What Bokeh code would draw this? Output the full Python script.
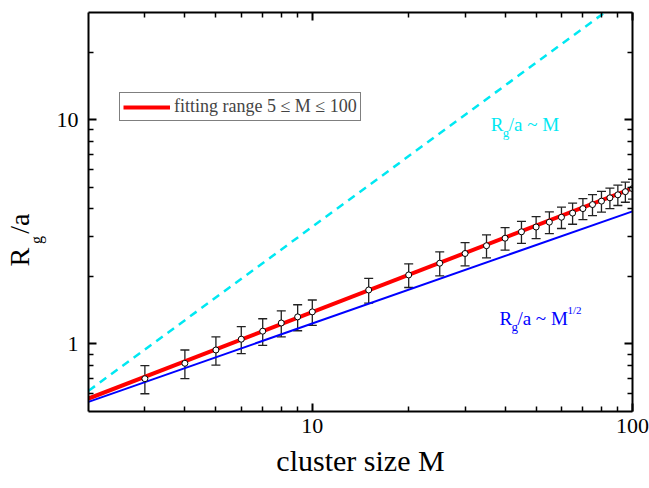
from bokeh.plotting import figure
from bokeh.models import (LogAxis, FixedTicker, BasicTickFormatter, Whisker, TeeHead,
                          ColumnDataSource, Label, Legend, LegendItem, Range1d, CustomJSTickFormatter)
from bokeh.embed import file_html
from bokeh.resources import INLINE

# ---- data ----
M = [3, 4, 5, 6, 7, 8, 9, 10, 15, 20, 25, 30, 35, 40, 45, 50, 55, 60, 65, 70, 75, 80, 85, 90, 95, 100]
rg = [0.70, 0.82, 0.94, 1.05, 1.14, 1.24, 1.32, 1.39, 1.74, 2.03, 2.29, 2.53, 2.74, 2.96, 3.16, 3.32,
      3.49, 3.67, 3.83, 4.01, 4.18, 4.33, 4.48, 4.62, 4.77, 4.92]
err = [0.10, 0.12, 0.135, 0.145, 0.155, 0.165, 0.175, 0.18, 0.22, 0.245, 0.28, 0.30, 0.32, 0.34, 0.355,
       0.37, 0.385, 0.40, 0.415, 0.43, 0.445, 0.46, 0.47, 0.48, 0.49, 0.50]

fit_M = [2, 100]
fit_rg = [0.571, 4.94]
half_M = [2, 100]
half_rg = [0.552, 3.90]
lin_M = [2, 100]
lin_rg = [0.618, 37.0]

x_major = [10, 100]
x_minor = [3, 4, 5, 6, 7, 8, 9, 20, 30, 40, 50, 60, 70, 80, 90]
y_major = [1, 10]
y_minor = [0.6, 0.7, 0.8, 0.9, 2, 3, 4, 5, 6, 7, 8, 9, 20]

FONT = "Liberation Serif"
CYAN = "#00E8F2"
NB = "\u00a0"

p = figure(width=649, height=488, x_axis_type="log", y_axis_type="log",
           x_range=Range1d(2, 100), y_range=Range1d(0.5, 30),
           output_backend="svg", toolbar_location=None,
           min_border_left=88, min_border_right=17, min_border_top=12, min_border_bottom=77)
p.grid.visible = False
p.outline_line_color = None
p.background_fill_color = "white"


def style(ax, major, minor, show):
    ax.ticker = FixedTicker(ticks=major, minor_ticks=minor)
    ax.axis_line_width = 2
    ax.axis_line_color = "black"
    ax.major_tick_in = 8
    ax.major_tick_out = 0
    ax.minor_tick_in = 5
    ax.minor_tick_out = 0
    ax.major_tick_line_width = 2
    ax.minor_tick_line_width = 1.5
    ax.major_label_text_font = FONT
    ax.major_label_text_color = "black"
    if show:
        ax.formatter = BasicTickFormatter()
        ax.major_label_text_font_size = "22px"
    else:
        ax.formatter = CustomJSTickFormatter(code="return ''")
        ax.major_label_text_font_size = "1px"
        ax.major_label_standoff = 0


style(p.xaxis[0], x_major, x_minor, True)
style(p.yaxis[0], y_major, y_minor, True)
p.xaxis[0].major_label_standoff = 7
p.yaxis[0].major_label_standoff = 10
p.xaxis[0].axis_label = "cluster size M"
p.xaxis[0].axis_label_text_font = FONT
p.xaxis[0].axis_label_text_font_size = "30px"
p.xaxis[0].axis_label_text_font_style = "normal"
p.xaxis[0].axis_label_text_color = "black"
p.xaxis[0].axis_label_standoff = 8

top = LogAxis()
style(top, x_major, x_minor, False)
p.add_layout(top, "above")
right = LogAxis()
style(right, y_major, y_minor, False)
p.add_layout(right, "right")


# y-axis title built from two label-only axes: subscript "g", then "R  /a"
def label_axis(text, size, standoff):
    ax = LogAxis(ticker=FixedTicker(ticks=[], minor_ticks=[]),
                 formatter=CustomJSTickFormatter(code="return ''"),
                 axis_line_color=None, major_tick_line_color=None, minor_tick_line_color=None,
                 major_tick_in=0, major_tick_out=0, minor_tick_in=0, minor_tick_out=0,
                 major_label_standoff=0, major_label_text_font_size="1px",
                 axis_label=text, axis_label_text_font=FONT, axis_label_text_font_size=size,
                 axis_label_text_font_style="normal", axis_label_text_color="black",
                 axis_label_standoff=standoff)
    p.add_layout(ax, "left")


label_axis("g" + NB * 14, "16px", 9)
label_axis("R" + NB * 2 + "/a" + NB * 8, "28px", -10)

# lines
r_fit = p.line(fit_M, fit_rg, line_color="#FF0000", line_width=4)
p.line(half_M, half_rg, line_color="#0000FF", line_width=2)
p.line(lin_M, lin_rg, line_color=CYAN, line_width=2.5, line_dash="8 6")

# error bars
src = ColumnDataSource(dict(M=M,
                            upper=[y + e for y, e in zip(rg, err)],
                            lower=[y - e for y, e in zip(rg, err)]))
w = Whisker(base="M", upper="upper", lower="lower", source=src,
            line_color="#222222", line_width=1.3,
            upper_head=TeeHead(size=9, line_color="#222222", line_width=1.3),
            lower_head=TeeHead(size=9, line_color="#222222", line_width=1.3))
p.add_layout(w)
p.scatter(M, rg, size=6, fill_color="white", line_color="black", line_width=1)

# legend
legend = Legend(items=[LegendItem(label="fitting range 5 \u2264 M \u2264 100", renderers=[r_fit])],
                location=(31, 290), border_line_color="black", border_line_width=1,
                label_text_font=FONT, label_text_font_size="18px", glyph_width=47, glyph_height=20,
                label_height=20, padding=3, margin=0, label_standoff=4, spacing=0)
p.add_layout(legend)


def lab(text, x, y, size, color="black", xo=0, yo=0):
    p.add_layout(Label(x=x, y=y, text=text, x_offset=xo, y_offset=yo,
                       text_font=FONT, text_font_size=size, text_color=color,
                       text_align="left", text_baseline="alphabetic"))


# cyan annotation
lab("R", 36.1, 9.53, "19px", CYAN)
lab("g", 36.1, 9.53, "13px", CYAN, xo=12, yo=-8)
lab("/a ~ M", 36.1, 9.53, "19px", CYAN, xo=18)

# blue annotation
lab("R", 38.4, 1.305, "19px", "#0000FF")
lab("g", 38.4, 1.305, "13px", "#0000FF", xo=12, yo=-8)
lab("/a ~ M", 38.4, 1.305, "19px", "#0000FF", xo=18)
lab("1/2", 38.4, 1.305, "11px", "#0000FF", xo=68, yo=8)

open("out.html", "w").write(file_html(p, INLINE))
